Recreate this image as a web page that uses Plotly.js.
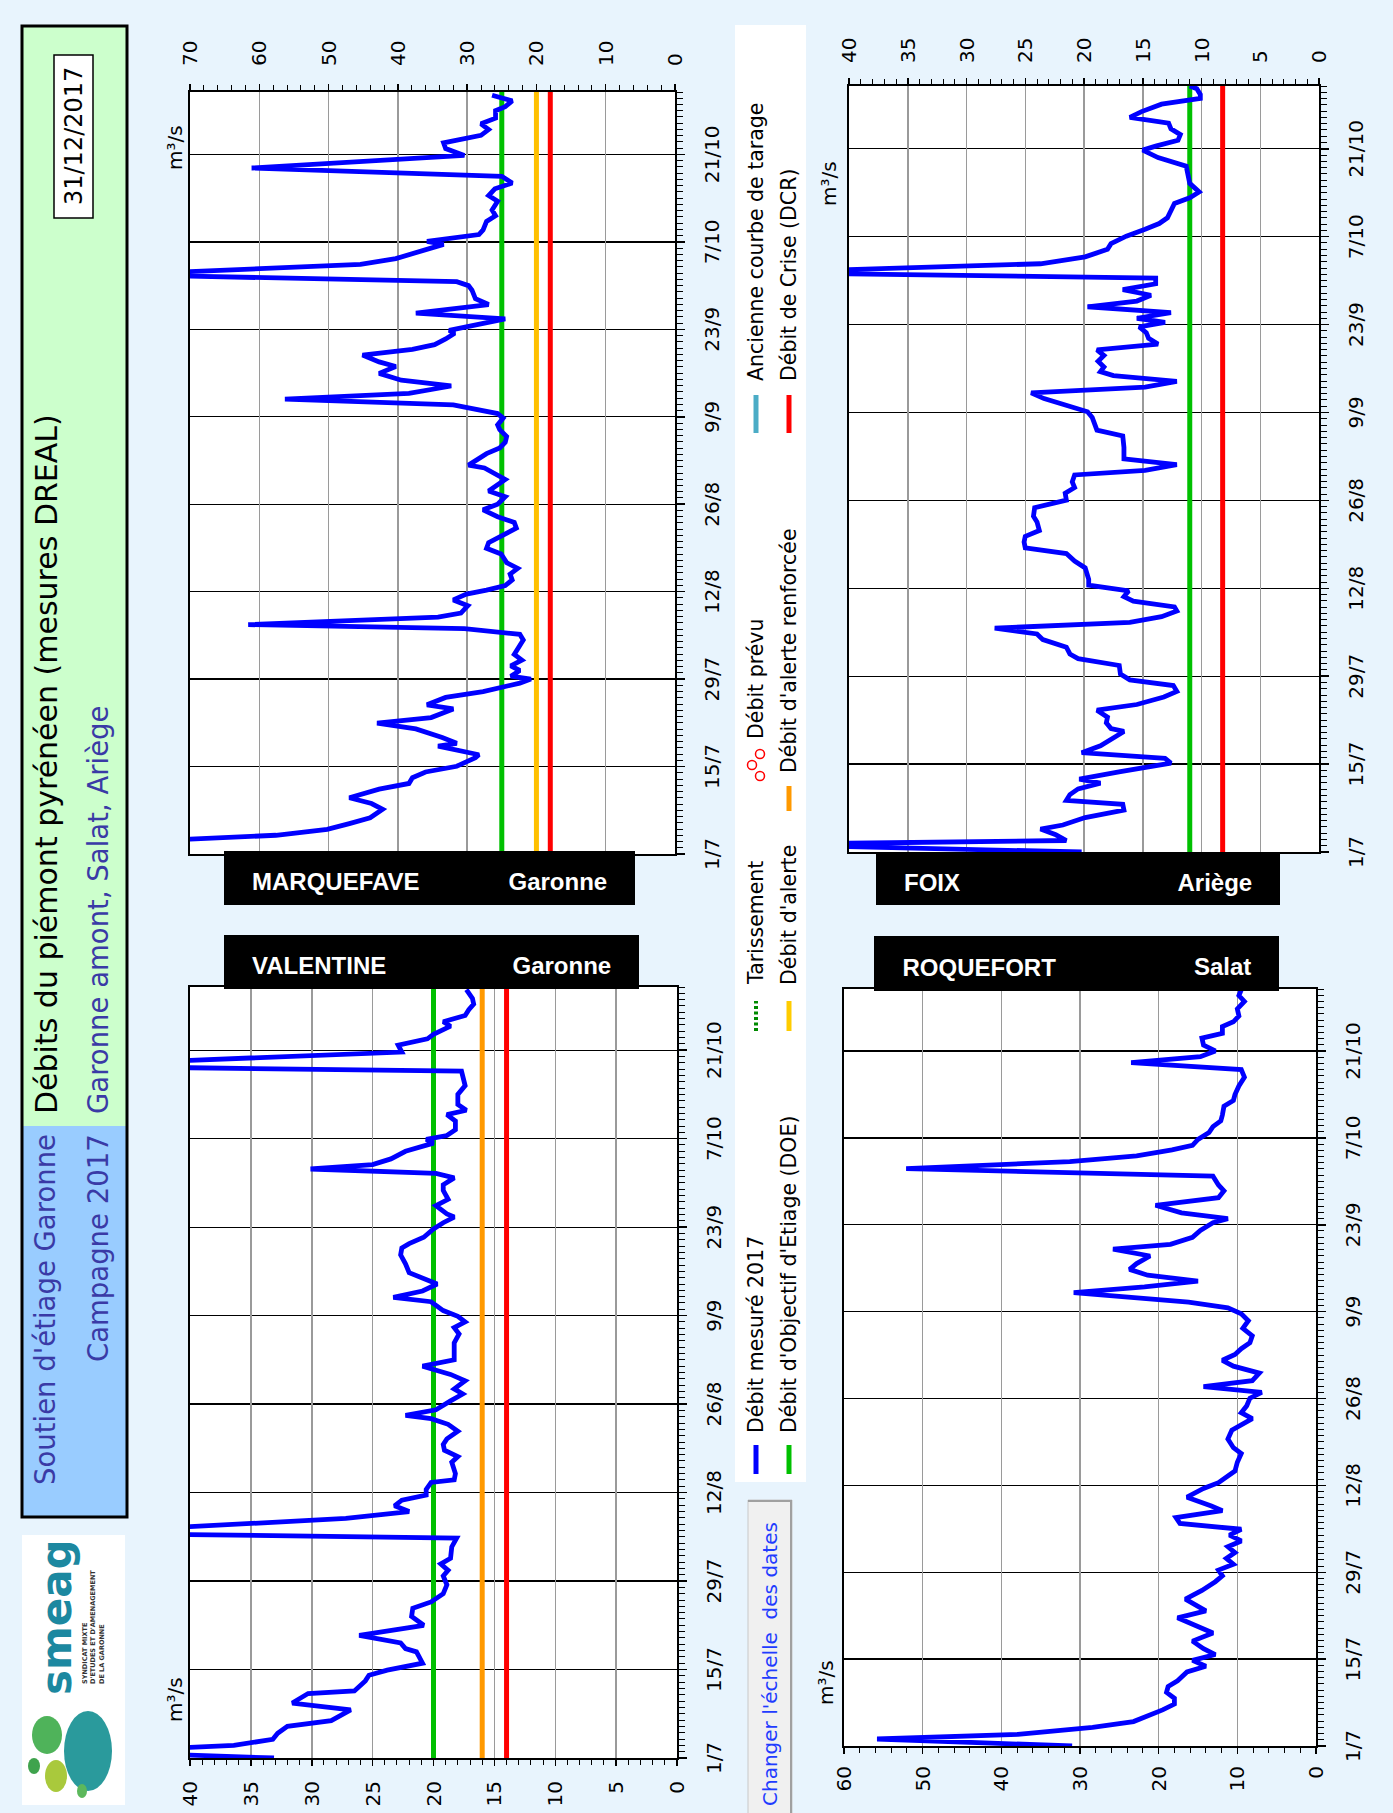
<!DOCTYPE html>
<html><head><meta charset="utf-8">
<script src="https://cdn.plot.ly/plotly-3.0.1.min.js"></script>
<style>
html,body{margin:0;padding:0;background:#e8f4fd;}
#wrap{position:relative;width:1393px;height:1813px;overflow:hidden;background:#e8f4fd;}
#chart{position:absolute;left:0;top:0;width:1813px;height:1393px;transform-origin:0 0;transform:translate(0px,1813px) rotate(-90deg);}
</style></head><body><div id="wrap"><div id="chart"></div></div>
<script>
// ---------- DATA (day offset from 1 July 2017, flow m3/s) ----------
const dateLabels = ["1/7","15/7","29/7","12/8","26/8","9/9","23/9","7/10","21/10"];
const dateTickDays = [0,14,28,42,56,70,84,98,112];

const valentine = [[0,33.1],[1.0,48],[2.0,36.4],[2.95,33.2],[3.9,32.8],[5.0,32.0],[5.9,28.4],[7.6,26.8],[8.7,31.6],[10.2,30.3],[10.6,26.5],[12.2,25.6],[13.1,25.3],[13.9,23.8],[15.0,20.9],[15.9,21.1],[16.8,21.4],[17.3,22.3],[18.2,22.7],[19.4,26.1],[21.0,20.8],[22.4,21.8],[23.7,21.7],[24.7,20.2],[26.0,19.2],[27.4,18.9],[28.8,19.2],[29.7,18.8],[30.7,19.4],[31.6,18.6],[33.4,18.5],[34.8,18.1],[35.6,50],[37.9,27.2],[39.0,22.0],[39.9,23.2],[40.8,22.6],[41.6,20.6],[42.5,20.6],[43.6,20.2],[44.0,18.3],[45.0,18.2],[46.8,18.5],[47.7,18.0],[48.7,19.1],[49.6,19.2],[50.5,18.9],[51.7,18.0],[52.8,18.8],[53.7,20.2],[54.2,22.3],[55.1,19.8],[56.0,18.9],[56.5,18.6],[57.6,17.6],[58.4,18.3],[59.7,17.4],[60.7,18.6],[62.0,20.9],[63.0,18.3],[63.9,18.3],[65.7,18.3],[67.1,17.9],[68.1,18.3],[69.0,17.4],[69.9,18.0],[70.8,19.2],[72.2,20.2],[72.9,23.3],[73.9,20.9],[75.0,19.7],[76.8,22.0],[78.2,22.3],[79.6,22.7],[80.7,22.6],[81.4,22.0],[82.4,20.8],[83.7,20.0],[84.7,19.2],[85.6,18.3],[86.1,18.9],[87.4,19.8],[88.4,18.8],[89.8,19.2],[90.7,19.2],[91.8,18.3],[92.5,19.8],[93.2,30.1],[93.9,25.0],[94.8,23.5],[96.0,22.3],[97.3,20.0],[97.9,20.6],[98.5,18.9],[99.4,18.2],[100.8,18.2],[101.8,18.9],[102.5,17.3],[103.4,18.0],[104.1,18.0],[105.0,18.0],[106.4,17.4],[107.8,17.6],[108.7,17.7],[109.5,52],[111.7,22.6],[112.8,22.9],[113.8,20.5],[114.5,20.0],[115.8,18.6],[116.5,19.2],[117.5,17.4],[118.4,17.1],[119.3,16.7],[120.2,16.8],[121.1,17.1],[121.6,17.3]];

const marquefave = [[0,75],[2.0,78],[3.0,57.6],[3.95,50.2],[4.87,47.0],[5.79,44.0],[7.16,42.2],[8.08,43.8],[9.0,47.0],[10.38,42.7],[11.29,38.4],[12.21,37.9],[13.13,36.0],[14.05,31.5],[15.43,28.8],[15.89,28.3],[17.26,34.2],[17.72,31.5],[18.64,33.6],[20.02,37.4],[20.94,43.0],[21.85,35.2],[23.23,32.0],[23.88,35.8],[25.07,33.1],[25.99,27.7],[27.36,22.4],[28.01,20.8],[28.47,23.7],[29.38,22.4],[30.12,23.7],[31.04,22.1],[31.96,23.2],[33.33,22.4],[34.25,21.9],[35.17,22.4],[36.09,30.4],[36.73,61.6],[37.92,34.2],[38.57,30.9],[39.76,29.9],[40.68,32.0],[41.6,30.1],[42.24,27.2],[42.98,24.5],[43.89,23.5],[44.81,23.8],[45.73,22.7],[46.65,24.3],[48.03,25.1],[48.94,27.2],[49.86,26.9],[50.78,25.3],[52.16,22.9],[53.08,23.2],[54.0,25.6],[55.1,27.7],[56.01,25.6],[57.21,24.5],[58.13,26.9],[59.96,24.5],[61.8,27.5],[62.26,29.8],[64.1,27.2],[65.01,25.3],[65.93,24.5],[66.85,24.3],[67.95,25.3],[68.69,25.6],[69.79,24.8],[70.52,25.6],[71.9,32.0],[72.82,56.3],[73.74,38.4],[74.93,32.3],[75.85,39.5],[76.95,42.7],[78.05,40.3],[78.79,42.7],[79.89,45.1],[80.81,37.9],[81.54,34.7],[82.46,33.1],[83.38,31.8],[83.84,32.6],[84.48,29.9],[85.67,24.5],[86.59,37.4],[87.97,26.9],[88.89,28.8],[90.27,29.3],[91.0,29.8],[91.64,31.5],[92.75,80],[94.4,45.4],[95.32,40.3],[96.69,35.8],[97.61,33.4],[98.07,35.8],[99.17,28.3],[99.91,27.7],[101.29,27.2],[102.2,25.9],[103.12,26.4],[104.5,25.6],[105.42,26.9],[106.5,26.0],[107.44,23.5],[108.5,25.0],[109.83,61.1],[111.85,30.4],[112.95,33.1],[113.87,33.4],[115.06,28.0],[115.98,26.9],[116.9,28.0],[117.81,25.9],[119.01,25.9],[119.65,24.5],[120.57,23.5],[121.49,26.4]];

const foix = [[0,20.2],[1.2,48],[1.83,21.5],[2.74,22.4],[3.66,23.7],[4.3,21.8],[5.48,19.9],[6.67,16.6],[7.59,16.7],[8.23,21.5],[9.14,21.2],[10.05,20.5],[10.97,18.6],[11.61,20.4],[12.8,16.9],[13.71,13.7],[14.17,12.6],[14.9,13.1],[15.81,20.2],[16.91,18.6],[18.28,17.4],[19.2,16.6],[19.65,17.7],[20.57,18.1],[21.48,18.0],[22.58,18.9],[23.49,15.5],[24.68,13.2],[25.59,12.1],[26.51,12.4],[27.42,16.1],[28.34,16.9],[29.71,17.0],[30.8,20.5],[31.54,21.2],[32.63,21.5],[33.82,23.5],[34.73,24.0],[35.65,27.6],[36.56,16.1],[37.48,13.4],[38.39,12.1],[39.03,12.3],[39.95,15.8],[40.68,16.6],[41.59,16.2],[42.5,19.6],[43.42,19.6],[45.25,19.9],[46.34,20.8],[47.53,21.5],[48.45,25.0],[49.36,25.1],[50.27,25.0],[51.19,23.8],[52.56,24.0],[53.47,24.3],[54.84,24.2],[56.03,21.5],[57.13,21.6],[58.04,20.8],[58.96,21.0],[60.05,20.8],[60.79,14.8],[61.7,12.1],[62.61,16.6],[64.44,16.6],[66.27,16.7],[67.18,18.9],[68.1,19.1],[69.2,19.3],[70.11,19.7],[71.3,21.8],[72.21,23.4],[73.13,24.5],[74.04,14.8],[74.95,12.1],[75.87,17.5],[76.51,18.6],[77.24,18.3],[78.15,18.8],[79.07,18.3],[79.98,18.9],[80.9,13.7],[81.81,14.5],[82.72,14.7],[83.64,15.3],[84.37,13.1],[85.01,15.5],[85.92,12.6],[86.84,19.7],[87.75,15.5],[88.67,14.3],[89.58,16.7],[90.49,13.9],[91.41,13.9],[92.3,48],[93.69,23.7],[94.79,19.9],[95.98,18.0],[96.89,17.7],[98.08,16.4],[99.18,14.8],[100.09,13.6],[101.01,12.9],[101.92,12.7],[103.29,12.3],[104.2,11.0],[105.12,10.2],[106.49,11.0],[107.86,11.2],[109.23,11.3],[110.6,13.7],[111.79,15.0],[112.43,13.9],[113.35,12.0],[114.26,11.8],[115.17,12.6],[116.09,12.8],[117.0,16.1],[117.92,15.1],[119.1,13.4],[120.02,10.1],[120.66,10.1],[121.57,10.4],[122.0,11.0]];

const roquefort = [[0,31.0],[1.13,55.8],[1.88,37.9],[3.0,28.4],[3.94,23.2],[5.07,20.9],[5.82,19.5],[6.76,18.0],[7.7,18.0],[8.64,19.0],[9.58,18.8],[10.52,17.6],[11.93,16.4],[12.86,14.0],[13.8,15.7],[14.74,12.8],[15.68,14.3],[16.9,15.7],[18.22,13.1],[20.66,17.6],[21.78,14.0],[23.66,16.6],[25.07,14.5],[26.48,12.8],[27.42,11.9],[28.36,12.4],[29.3,10.5],[30.23,11.4],[31.17,10.3],[32.11,11.2],[33.05,9.5],[33.99,11.0],[34.93,9.5],[35.87,17.3],[36.81,17.8],[37.93,11.9],[38.69,13.3],[40.09,16.4],[41.5,14.3],[42.44,12.4],[43.38,11.4],[44.32,10.3],[45.73,10.0],[47.14,9.5],[48.08,10.5],[49.48,11.2],[50.89,10.7],[51.83,9.3],[52.77,8.1],[53.71,9.5],[54.84,8.8],[56.06,8.4],[57.0,6.9],[57.93,14.3],[58.87,8.1],[60.09,7.2],[61.22,10.5],[62.16,11.9],[63.1,10.3],[64.04,9.5],[64.98,8.4],[66.1,8.1],[67.32,9.3],[68.54,8.6],[69.67,9.5],[70.61,11.2],[71.55,16.2],[73.05,30.8],[73.99,21.8],[74.93,15.0],[75.87,21.4],[76.81,23.7],[77.75,22.8],[78.97,21.1],[80.09,25.8],[80.85,18.5],[81.97,15.7],[83.1,14.7],[84.32,13.1],[84.98,11.2],[85.92,17.1],[87.14,20.4],[88.36,12.4],[89.48,11.7],[90.42,12.4],[91.83,13.1],[93.05,52.1],[94.18,31.3],[95.12,22.8],[96.06,18.3],[96.81,15.7],[97.75,15.0],[98.87,13.6],[99.81,13.1],[100.75,12.1],[101.69,11.9],[103.1,11.7],[104.04,10.5],[104.98,10.3],[106.38,9.8],[107.79,9.1],[109.01,9.5],[110.14,23.5],[111.08,14.7],[112.02,12.8],[112.96,14.3],[114.08,14.5],[114.84,11.9],[115.96,11.9],[116.71,10.5],[117.65,9.8],[118.78,10.0],[120.0,9.1],[120.94,9.8],[121.88,9.5]];

// thresholds: [DOE, alerte, alerte renforcee, DCR] (null = none)
const valentineThr  = [20, null, 16, 14];
const marquefaveThr = [25, 20, null, 18];
const foixThr       = [11, null, null, 8.2];
const roquefortThr  = [null, null, null, null];

// ---------- LAYOUT HELPERS ----------
const W = 1813, H = 1393;
const FONT = "DejaVu Sans, Verdana, sans-serif";
const fx = X => X / W;
const fy = Y => 1 - Y / H;
const thrColors = ['#00c000', '#ffc000', '#ff9900', '#ff0000'];

function xAx(x0, x1, anchor) {
  return {domain:[fx(x0), fx(x1)], anchor:anchor, range:[0,122], tickmode:'array',
    tickvals:dateTickDays, ticktext:dateLabels, ticks:'outside', ticklen:8, tickwidth:1.5, tickcolor:'#000',
    showgrid:true, gridcolor:'#000', gridwidth:1.3, showline:true, linecolor:'#000', linewidth:2, mirror:true,
    zeroline:false, tickangle:0, tickfont:{family:FONT, size:20, color:'#000'}, ticklabelstandoff:10,
    minor:{tickmode:'linear', tick0:0, dtick:1, ticks:'outside', ticklen:6, tickwidth:1, tickcolor:'#000', showgrid:false},
    fixedrange:true};
}
function yAx(yTop, yBot, anchor, max, dt, mdt, side, standoff) {
  return {domain:[fy(yBot), fy(yTop)], anchor:anchor, range:[0,max], dtick:dt, tick0:0, side:side,
    ticks:'outside', ticklen:6, tickwidth:1.5, tickcolor:'#000', showgrid:true, gridcolor:'#9a9a9a', gridwidth:1.5,
    showline:true, linecolor:'#000', linewidth:2, mirror:true, zeroline:false,
    tickfont:{family:FONT, size:20, color:'#000'}, ticklabelstandoff:standoff,
    minor:{tickmode:'linear', tick0:0, dtick:mdt, ticks:'outside', ticklen:5, tickwidth:1, tickcolor:'#000', showgrid:false},
    fixedrange:true};
}

const traces = [];
function addStation(series, thr, xa, ya) {
  thr.forEach((v, i) => {
    if (v === null) return;
    traces.push({x:[0,122], y:[v,v], xaxis:xa, yaxis:ya, mode:'lines', line:{color:thrColors[i], width:5}, hoverinfo:'skip', showlegend:false});
  });
  traces.push({x:series.map(p=>p[0]), y:series.map(p=>p[1]), xaxis:xa, yaxis:ya, mode:'lines',
    line:{color:'#0000ff', width:4.8}, showlegend:false});
}
addStation(valentine, valentineThr, 'x', 'y');
addStation(marquefave, marquefaveThr, 'x2', 'y2');
addStation(roquefort, roquefortThr, 'x3', 'y3');
addStation(foix, foixThr, 'x4', 'y4');

// ---------- SHAPES & ANNOTATIONS ----------
const shapes = [];
const annotations = [];
function rect(X0, Y0, X1, Y1, fill, lc, lw, layer) {
  shapes.push({type:'rect', xref:'paper', yref:'paper', x0:fx(X0), x1:fx(X1), y0:fy(Y1), y1:fy(Y0),
    fillcolor:fill, line:{color:lc || 'rgba(0,0,0,0)', width:lw || 0}, layer:layer || 'above'});
}
function seg(X0, Y0, X1, Y1, color, width, dash) {
  shapes.push({type:'line', xref:'paper', yref:'paper', x0:fx(X0), x1:fx(X1), y0:fy(Y0), y1:fy(Y1),
    line:{color:color, width:width, dash:dash || 'solid'}});
}
function circ(cx, cy, rx, ry, fill, lc, lw) {
  shapes.push({type:'circle', xref:'paper', yref:'paper', x0:fx(cx-rx), x1:fx(cx+rx), y0:fy(cy+ry), y1:fy(cy-ry),
    fillcolor:fill, line:{color:lc || 'rgba(0,0,0,0)', width:lw || 0}});
}
function txt(text, X, Y, size, color, xanchor, yanchor, extra) {
  annotations.push(Object.assign({xref:'paper', yref:'paper', x:fx(X), y:fy(Y), text:text, showarrow:false,
    xanchor:xanchor || 'left', yanchor:yanchor || 'middle', font:{family:FONT, size:size, color:color || '#000'}}, extra || {}));
}

// title block
rect(296, 22, 687, 127, '#99ccff');
rect(687, 22, 1787, 127, '#ccffcc');
rect(296, 22, 1787, 127, 'rgba(0,0,0,0)', '#000', 3);
rect(1595, 54, 1758, 93, '#ffffff', '#000', 1.5);
txt('31/12/2017', 1676.5, 74, 24, '#000', 'center', 'middle');
txt('Débits du piémont pyrénéen (mesures DREAL)', 697, 47, 30, '#000', 'left', 'middle');
txt('Garonne amont, Salat, Ariège', 697, 98, 27.5, '#3a3aa6', 'left', 'middle');
txt("Soutien d'étiage Garonne", 681, 45, 27.5, '#3a3aa6', 'right', 'middle');
txt('Campagne 2017', 681, 98, 27.5, '#3a3aa6', 'right', 'middle');

// logo
rect(8, 22, 278, 125, '#ffffff');
circ(62, 88, 40, 24, '#2a9a9c');
circ(78, 47, 19, 15, '#4fb35a');
circ(37, 56, 16, 11, '#a9c93c');
circ(47, 34, 8, 6, '#3fa34d');
circ(22, 82, 7, 5, '#5cb85c');
txt('smeag', 196, 57, 42, '#1c88a0', 'center', 'middle', {font:{family:'DejaVu Sans', size:42, color:'#1c88a0', weight:'bold'}});
txt('SYNDICAT MIXTE<br>D\'ETUDES ET D\'AMENAGEMENT<br>DE LA GARONNE', 127, 94, 6.5, '#333', 'left', 'middle',
  {font:{family:'DejaVu Sans', size:6.5, color:'#333', weight:'bold'}, align:'left'});

// legend box
rect(331, 735, 1788, 806, '#ffffff');
const rowA = 756, rowB = 789, LF = 20.5;
seg(339, rowA, 368, rowA, '#0000ff', 5);
txt('Débit mesuré 2017', 378, rowA, LF);
seg(339, rowB, 368, rowB, '#00c000', 5);
txt("Débit d'Objectif d'Etiage (DOE)", 378, rowB, LF);
seg(782, rowA, 812, rowA, '#008a00', 4, '3px,2.5px');
txt('Tarissement', 826, rowA, LF);
seg(782, rowB, 812, rowB, '#ffcc00', 5);
txt("Débit d'alerte", 826, rowB, LF);
circ(1037, rowA + 4, 4.5, 4.5, 'rgba(0,0,0,0)', '#ff0000', 1.5);
circ(1048, rowA - 4, 4.5, 4.5, 'rgba(0,0,0,0)', '#ff0000', 1.5);
circ(1059, rowA + 4, 4.5, 4.5, 'rgba(0,0,0,0)', '#ff0000', 1.5);
txt('Débit prévu', 1072, rowA, LF);
seg(1002, rowB, 1027, rowB, '#ff9900', 5);
txt("Débit d'alerte renforcée", 1038, rowB, LF);
seg(1380, rowA, 1418, rowA, '#4bacc6', 5);
txt('Ancienne courbe de tarage', 1430, rowA, LF);
seg(1380, rowB, 1418, rowB, '#ff0000', 5);
txt('Débit de Crise (DCR)', 1430, rowB, LF);

// button
rect(-4, 748, 313, 792, '#f0f0f0', '#c8c8c8', 1);
seg(0, 791, 313, 791, '#a0a0a0', 2);
seg(312, 748, 312, 792, '#a0a0a0', 2);
txt("Changer l'échelle\u00a0 des dates", 5, 770, 20, '#1f3cff', 'left', 'middle');

// station label boxes (drawn vertical, text rotated)
const BF = 'Liberation Sans, Arial, sans-serif';
function stationBox(X0, X1, Y0, Y1, name, river) {
  rect(X0, Y0, X1, Y1, '#000000');
  const cx = (X0 + X1) / 2 - 3;
  txt(name, cx, Y0 + 26, 24, '#fff', 'center', 'top', {textangle:90, font:{family:BF, size:24, color:'#fff', weight:'bold'}});
  txt(river, cx, Y1 - 26, 24, '#fff', 'center', 'bottom', {textangle:90, font:{family:BF, size:24, color:'#fff', weight:'bold'}});
}
stationBox(824, 878, 224, 639, 'VALENTINE', 'Garonne');
stationBox(908, 962, 224, 635, 'MARQUEFAVE', 'Garonne');
stationBox(908, 960, 876, 1280, 'FOIX', 'Ariège');
stationBox(822, 877, 874, 1279, 'ROQUEFORT', 'Salat');

// units
txt('m³/s', 113, 175, 20, '#000', 'center', 'middle');
txt('m³/s', 1665, 175, 20, '#000', 'center', 'middle');
txt('m³/s', 130, 826, 20, '#000', 'center', 'middle');
txt('m³/s', 1629, 829, 20, '#000', 'center', 'middle');

const layout = {
  width:W, height:H, autosize:false, margin:{l:0, r:0, t:0, b:0, pad:0},
  paper_bgcolor:'#e8f4fd', plot_bgcolor:'#ffffff', showlegend:false,
  font:{family:FONT, color:'#000'},
  xaxis:  xAx(55, 826, 'y'),
  yaxis:  yAx(190, 677, 'x', 40, 5, 1, 'left', 11),
  xaxis2: xAx(959, 1721, 'y2'),
  yaxis2: yAx(190, 675, 'x2', 70, 10, 2, 'right', 14),
  xaxis3: xAx(67, 824, 'y3'),
  yaxis3: yAx(844, 1316, 'x3', 60, 10, 2, 'left', 8),
  xaxis4: xAx(961, 1727, 'y4'),
  yaxis4: yAx(849, 1319, 'x4', 40, 5, 1, 'right', 11),
  shapes:shapes, annotations:annotations
};
Plotly.newPlot('chart', traces, layout, {staticPlot:true, displayModeBar:false});
</script></body></html>
